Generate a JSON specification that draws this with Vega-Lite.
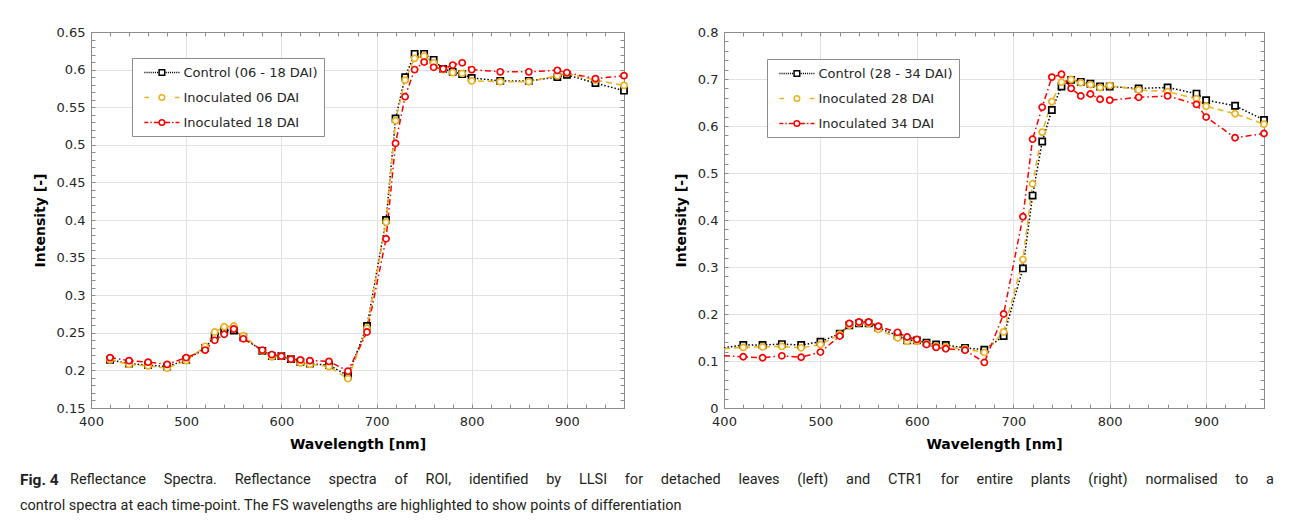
{
  "$schema": "https://vega.github.io/schema/vega-lite/v6.json",
  "background": "white",
  "padding": {"left": 20, "top": 26, "right": 0, "bottom": 0},
  "spacing": 16,
  "config": {
    "font": "DejaVu Sans",
    "view": {"stroke": null},
    "axis": {
      "labelFont": "DejaVu Sans", "labelFontSize": 13, "labelColor": "#262626",
      "titleFont": "DejaVu Sans", "titleFontSize": 14, "titleFontWeight": "bold", "titleColor": "#000000",
      "gridColor": "#e2e2e2", "gridWidth": 1, "domainColor": "#8c8c8c", "tickColor": "#8c8c8c",
      "labelPadding": 6, "labelFlush": false, "labelOverlap": false
    },
    "legend": {"labelFont": "DejaVu Sans"}
  },
  "datasets": {
    "left": [
      {"wl":420,"c":0.214,"a":0.214,"b":0.217},
      {"wl":440,"c":0.209,"a":0.208,"b":0.213},
      {"wl":460,"c":0.207,"a":0.206,"b":0.211},
      {"wl":480,"c":0.205,"a":0.203,"b":0.208},
      {"wl":500,"c":0.214,"a":0.213,"b":0.217},
      {"wl":520,"c":0.230,"a":0.232,"b":0.227},
      {"wl":530,"c":0.246,"a":0.251,"b":0.240},
      {"wl":540,"c":0.253,"a":0.258,"b":0.248},
      {"wl":550,"c":0.253,"a":0.259,"b":0.255},
      {"wl":560,"c":0.244,"a":0.246,"b":0.242},
      {"wl":580,"c":0.226,"a":0.226,"b":0.227},
      {"wl":590,"c":0.219,"a":0.218,"b":0.221},
      {"wl":600,"c":0.219,"a":0.219,"b":0.219},
      {"wl":610,"c":0.215,"a":0.215,"b":0.215},
      {"wl":620,"c":0.211,"a":0.210,"b":0.214},
      {"wl":630,"c":0.209,"a":0.208,"b":0.213},
      {"wl":650,"c":0.207,"a":0.205,"b":0.212},
      {"wl":670,"c":0.193,"a":0.189,"b":0.199},
      {"wl":690,"c":0.259,"a":0.256,"b":0.251},
      {"wl":710,"c":0.400,"a":0.397,"b":0.375},
      {"wl":720,"c":0.535,"a":0.532,"b":0.502},
      {"wl":730,"c":0.590,"a":0.586,"b":0.564},
      {"wl":740,"c":0.621,"a":0.615,"b":0.600},
      {"wl":750,"c":0.621,"a":0.618,"b":0.610},
      {"wl":760,"c":0.613,"a":0.609,"b":0.603},
      {"wl":770,"c":0.601,"a":0.600,"b":0.601},
      {"wl":780,"c":0.597,"a":0.596,"b":0.606},
      {"wl":790,"c":0.594,"a":0.595,"b":0.609},
      {"wl":800,"c":0.589,"a":0.585,"b":0.600},
      {"wl":830,"c":0.585,"a":0.584,"b":0.597},
      {"wl":860,"c":0.585,"a":0.584,"b":0.597},
      {"wl":890,"c":0.590,"a":0.592,"b":0.599},
      {"wl":900,"c":0.593,"a":0.595,"b":0.596},
      {"wl":930,"c":0.582,"a":0.586,"b":0.588},
      {"wl":960,"c":0.572,"a":0.579,"b":0.592}
    ],
    "right": [
      {"wl":400,"c":0.128,"a":0.126,"b":0.111},
      {"wl":420,"c":0.134,"a":0.129,"b":0.109},
      {"wl":440,"c":0.134,"a":0.130,"b":0.107},
      {"wl":460,"c":0.136,"a":0.131,"b":0.111},
      {"wl":480,"c":0.134,"a":0.128,"b":0.108},
      {"wl":500,"c":0.141,"a":0.135,"b":0.119},
      {"wl":520,"c":0.158,"a":0.157,"b":0.153},
      {"wl":530,"c":0.176,"a":0.176,"b":0.180},
      {"wl":540,"c":0.180,"a":0.181,"b":0.183},
      {"wl":550,"c":0.180,"a":0.180,"b":0.183},
      {"wl":560,"c":0.171,"a":0.167,"b":0.174},
      {"wl":580,"c":0.154,"a":0.149,"b":0.161},
      {"wl":590,"c":0.144,"a":0.142,"b":0.151},
      {"wl":600,"c":0.144,"a":0.142,"b":0.146},
      {"wl":610,"c":0.139,"a":0.137,"b":0.135},
      {"wl":620,"c":0.135,"a":0.132,"b":0.129},
      {"wl":630,"c":0.134,"a":0.130,"b":0.126},
      {"wl":650,"c":0.128,"a":0.126,"b":0.123},
      {"wl":670,"c":0.124,"a":0.118,"b":0.097},
      {"wl":690,"c":0.153,"a":0.162,"b":0.200},
      {"wl":710,"c":0.297,"a":0.316,"b":0.407},
      {"wl":720,"c":0.452,"a":0.477,"b":0.572},
      {"wl":730,"c":0.567,"a":0.587,"b":0.640},
      {"wl":740,"c":0.634,"a":0.652,"b":0.704},
      {"wl":750,"c":0.684,"a":0.693,"b":0.710},
      {"wl":760,"c":0.698,"a":0.699,"b":0.680},
      {"wl":770,"c":0.694,"a":0.692,"b":0.664},
      {"wl":780,"c":0.690,"a":0.688,"b":0.668},
      {"wl":790,"c":0.684,"a":0.682,"b":0.657},
      {"wl":800,"c":0.684,"a":0.686,"b":0.655},
      {"wl":830,"c":0.680,"a":0.677,"b":0.661},
      {"wl":860,"c":0.682,"a":0.673,"b":0.664},
      {"wl":890,"c":0.669,"a":0.658,"b":0.646},
      {"wl":900,"c":0.655,"a":0.642,"b":0.619},
      {"wl":930,"c":0.643,"a":0.626,"b":0.575},
      {"wl":960,"c":0.613,"a":0.604,"b":0.584}
    ],
    "caption": [
      {"part":"fig","line":1,"text":"Fig. 4"},
      {"part":"l1","line":1,"text":"Reflectance\u2003\u2009Spectra.\u2003\u2009Reflectance\u2003\u2009spectra\u2003\u2009of\u2003\u2009ROI,\u2003\u2009identified\u2003\u2009by\u2003\u2009LLSI\u2003\u2009for\u2003\u2009detached\u2003\u2009leaves\u2003\u2009(left)\u2003\u2009and\u2003\u2009CTR1\u2003\u2009for\u2003\u2009entire\u2003\u2009plants\u2003\u2009(right)\u2003\u2009normalised\u2003\u2009to\u2003\u2009a"},
      {"part":"l2","line":2,"text":"control spectra at each time-point. The FS wavelengths are highlighted to show points of differentiation"}
    ]
  },
  "vconcat": [
    {
      "spacing": 43,
      "hconcat": [
        {
          "width": 533, "height": 376,
          "data": {"name": "left"},
          "transform": [{"fold": ["c","a","b"], "as": ["series","v"]}],
          "resolve": {"axis": {"x": "independent", "y": "independent"}, "scale": {"color": "independent", "shape": "independent"}},
          "layer": [
            {
              "mark": {"type": "line", "strokeWidth": 1.5},
              "encoding": {
                "x": {"field": "wl", "type": "quantitative", "scale": {"domain": [400, 960], "nice": false},
                      "axis": {"orient": "bottom", "values": [400,500,600,700,800,900], "grid": true, "ticks": false, "domain": false, "labelPadding": 7, "title": "Wavelength [nm]", "titlePadding": 9}},
                "y": {"field": "v", "type": "quantitative", "scale": {"domain": [0.15, 0.65], "nice": false, "zero": false},
                      "axis": {"orient": "left", "values": [0.15,0.2,0.25,0.3,0.35,0.4,0.45,0.5,0.55,0.6,0.65], "format": ".2~f", "grid": true, "ticks": false, "domain": false, "title": "Intensity [-]", "titlePadding": 9}},
                "color": {"field": "series", "type": "nominal", "scale": {"domain": ["c","a","b"], "range": ["#000000","#EDB120","#FF0000"]}, "legend": null},
                "strokeDash": {"field": "series", "type": "nominal", "scale": {"domain": ["c","a","b"], "range": [[1.5,2],[6,4],[6,3,1.5,3]]}, "legend": null}
              }
            },
            {
              "mark": {"type": "point", "filled": false, "fill": "white", "strokeWidth": 1.7, "size": 38, "opacity": 1},
              "encoding": {
                "x": {"field": "wl", "type": "quantitative",
                      "axis": {"orient": "bottom", "values": [400,420,440,460,480,500,520,540,560,580,600,620,640,660,680,700,720,740,760,780,800,820,840,860,880,900,920,940,960], "labels": false, "grid": false, "tickSize": -4, "domain": true, "title": null}},
                "y": {"field": "v", "type": "quantitative",
                      "axis": {"orient": "left", "values": [0.15,0.16,0.17,0.18,0.19,0.2,0.21,0.22,0.23,0.24,0.25,0.26,0.27,0.28,0.29,0.3,0.31,0.32,0.33,0.34,0.35,0.36,0.37,0.38,0.39,0.4,0.41,0.42,0.43,0.44,0.45,0.46,0.47,0.48,0.49,0.5,0.51,0.52,0.53,0.54,0.55,0.56,0.57,0.58,0.59,0.6,0.61,0.62,0.63,0.64,0.65], "labels": false, "grid": false, "tickSize": -4, "domain": true, "title": null}},
                "color": {"field": "series", "type": "nominal", "scale": {"domain": ["c","a","b"], "range": ["#000000","#EDB120","#FF0000"]}, "legend": null},
                "shape": {"field": "series", "type": "nominal", "scale": {"domain": ["c","a","b"], "range": ["square","circle","circle"]}, "legend": null}
              }
            },
            {
              "transform": [{"filter": "false"}],
              "mark": {"type": "point", "filled": false, "size": 196, "strokeWidth": 1.5, "opacity": 1},
              "encoding": {
                "x": {"field": "wl", "type": "quantitative",
                      "axis": {"orient": "top", "values": [400,420,440,460,480,500,520,540,560,580,600,620,640,660,680,700,720,740,760,780,800,820,840,860,880,900,920,940,960], "labels": false, "grid": false, "tickSize": -4, "domain": true, "title": null}},
                "y": {"field": "v", "type": "quantitative",
                      "axis": {"orient": "right", "values": [0.15,0.16,0.17,0.18,0.19,0.2,0.21,0.22,0.23,0.24,0.25,0.26,0.27,0.28,0.29,0.3,0.31,0.32,0.33,0.34,0.35,0.36,0.37,0.38,0.39,0.4,0.41,0.42,0.43,0.44,0.45,0.46,0.47,0.48,0.49,0.5,0.51,0.52,0.53,0.54,0.55,0.56,0.57,0.58,0.59,0.6,0.61,0.62,0.63,0.64,0.65], "labels": false, "grid": false, "tickSize": -4, "domain": true, "title": null}},
                "color": {"field": "series", "type": "nominal", "scale": {"domain": ["c","a","b"], "range": ["#000000","#EDB120","#FF0000"]},
                          "legend": {"orient": "none", "legendX": 41, "legendY": 26, "title": null, "labelExpr": "datum.label == 'c' ? 'Control (06 - 18 DAI)  ' : datum.label == 'a' ? 'Inoculated 06 DAI' : 'Inoculated 18 DAI'", "labelFontSize": 13, "labelColor": "#262626", "symbolSize": 196, "symbolStrokeWidth": 1.5, "symbolFillColor": "white", "labelOffset": 29, "rowPadding": 10, "padding": 6.5, "fillColor": "white", "strokeColor": "#8c8c8c"}},
                "shape": {"field": "series", "type": "nominal", "scale": {"domain": ["c","a","b"], "range": [
                  "M-0.3,0h0.15M0,0h0.15M0.3,0h0.15M0.6,0h0.15M0.9,0h0.15M1.2,0h0.15M1.5,0h0.15M2.75,0h0.15M3.05,0h0.15M3.35,0h0.15M3.65,0h0.15M3.95,0h0.15M4.25,0h0.15M4.55,0h0.15M1.8,-0.4H2.6V0.4H1.8Z",
                  "M-0.3,0H0.35M2.6,0A0.4,0.4 0 1,1 1.8,0A0.4,0.4 0 1,1 2.6,0ZM4.05,0H4.7",
                  "M-0.3,0H0.25M0.55,0H0.75M1.05,0H1.75M2.65,0H3.35M3.65,0H3.85M4.15,0H4.7M2.6,0A0.4,0.4 0 1,1 1.8,0A0.4,0.4 0 1,1 2.6,0Z"
                ]},
                          "legend": {"orient": "none", "legendX": 41, "legendY": 26, "title": null, "labelExpr": "datum.label == 'c' ? 'Control (06 - 18 DAI)  ' : datum.label == 'a' ? 'Inoculated 06 DAI' : 'Inoculated 18 DAI'", "labelFontSize": 13, "labelColor": "#262626", "symbolSize": 196, "symbolStrokeWidth": 1.5, "symbolFillColor": "white", "labelOffset": 29, "rowPadding": 10, "padding": 6.5, "fillColor": "white", "strokeColor": "#8c8c8c"}}
              }
            }
          ]
        },
        {
          "width": 540, "height": 376,
          "data": {"name": "right"},
          "transform": [{"fold": ["c","a","b"], "as": ["series","v"]}],
          "resolve": {"axis": {"x": "independent", "y": "independent"}, "scale": {"color": "independent", "shape": "independent"}},
          "layer": [
            {
              "mark": {"type": "line", "strokeWidth": 1.5},
              "encoding": {
                "x": {"field": "wl", "type": "quantitative", "scale": {"domain": [400, 960], "nice": false},
                      "axis": {"orient": "bottom", "values": [400,500,600,700,800,900], "grid": true, "ticks": false, "domain": false, "labelPadding": 7, "title": "Wavelength [nm]", "titlePadding": 9}},
                "y": {"field": "v", "type": "quantitative", "scale": {"domain": [0, 0.8], "nice": false},
                      "axis": {"orient": "left", "values": [0,0.1,0.2,0.3,0.4,0.5,0.6,0.7,0.8], "format": ".1~f", "grid": true, "ticks": false, "domain": false, "title": "Intensity [-]", "titlePadding": 9}},
                "color": {"field": "series", "type": "nominal", "scale": {"domain": ["c","a","b"], "range": ["#000000","#EDB120","#FF0000"]}, "legend": null},
                "strokeDash": {"field": "series", "type": "nominal", "scale": {"domain": ["c","a","b"], "range": [[1.5,2],[6,4],[6,3,1.5,3]]}, "legend": null}
              }
            },
            {
              "transform": [{"filter": "datum.wl > 400"}],
              "mark": {"type": "point", "filled": false, "fill": "white", "strokeWidth": 1.7, "size": 38, "opacity": 1},
              "encoding": {
                "x": {"field": "wl", "type": "quantitative",
                      "axis": {"orient": "bottom", "values": [400,420,440,460,480,500,520,540,560,580,600,620,640,660,680,700,720,740,760,780,800,820,840,860,880,900,920,940,960], "labels": false, "grid": false, "tickSize": -4, "domain": true, "title": null}},
                "y": {"field": "v", "type": "quantitative",
                      "axis": {"orient": "left", "values": [0,0.02,0.04,0.06,0.08,0.1,0.12,0.14,0.16,0.18,0.2,0.22,0.24,0.26,0.28,0.3,0.32,0.34,0.36,0.38,0.4,0.42,0.44,0.46,0.48,0.5,0.52,0.54,0.56,0.58,0.6,0.62,0.64,0.66,0.68,0.7,0.72,0.74,0.76,0.78,0.8], "labels": false, "grid": false, "tickSize": -4, "domain": true, "title": null}},
                "color": {"field": "series", "type": "nominal", "scale": {"domain": ["c","a","b"], "range": ["#000000","#EDB120","#FF0000"]}, "legend": null},
                "shape": {"field": "series", "type": "nominal", "scale": {"domain": ["c","a","b"], "range": ["square","circle","circle"]}, "legend": null}
              }
            },
            {
              "transform": [{"filter": "false"}],
              "mark": {"type": "point", "filled": false, "size": 196, "strokeWidth": 1.5, "opacity": 1},
              "encoding": {
                "x": {"field": "wl", "type": "quantitative",
                      "axis": {"orient": "top", "values": [400,420,440,460,480,500,520,540,560,580,600,620,640,660,680,700,720,740,760,780,800,820,840,860,880,900,920,940,960], "labels": false, "grid": false, "tickSize": -4, "domain": true, "title": null}},
                "y": {"field": "v", "type": "quantitative",
                      "axis": {"orient": "right", "values": [0,0.02,0.04,0.06,0.08,0.1,0.12,0.14,0.16,0.18,0.2,0.22,0.24,0.26,0.28,0.3,0.32,0.34,0.36,0.38,0.4,0.42,0.44,0.46,0.48,0.5,0.52,0.54,0.56,0.58,0.6,0.62,0.64,0.66,0.68,0.7,0.72,0.74,0.76,0.78,0.8], "labels": false, "grid": false, "tickSize": -4, "domain": true, "title": null}},
                "color": {"field": "series", "type": "nominal", "scale": {"domain": ["c","a","b"], "range": ["#000000","#EDB120","#FF0000"]},
                          "legend": {"orient": "none", "legendX": 43, "legendY": 27, "title": null, "labelExpr": "datum.label == 'c' ? 'Control (28 - 34 DAI)  ' : datum.label == 'a' ? 'Inoculated 28 DAI' : 'Inoculated 34 DAI'", "labelFontSize": 13, "labelColor": "#262626", "symbolSize": 196, "symbolStrokeWidth": 1.5, "symbolFillColor": "white", "labelOffset": 29, "rowPadding": 10, "padding": 6.5, "fillColor": "white", "strokeColor": "#8c8c8c"}},
                "shape": {"field": "series", "type": "nominal", "scale": {"domain": ["c","a","b"], "range": [
                  "M-0.3,0h0.15M0,0h0.15M0.3,0h0.15M0.6,0h0.15M0.9,0h0.15M1.2,0h0.15M1.5,0h0.15M2.75,0h0.15M3.05,0h0.15M3.35,0h0.15M3.65,0h0.15M3.95,0h0.15M4.25,0h0.15M4.55,0h0.15M1.8,-0.4H2.6V0.4H1.8Z",
                  "M-0.3,0H0.35M2.6,0A0.4,0.4 0 1,1 1.8,0A0.4,0.4 0 1,1 2.6,0ZM4.05,0H4.7",
                  "M-0.3,0H0.25M0.55,0H0.75M1.05,0H1.75M2.65,0H3.35M3.65,0H3.85M4.15,0H4.7M2.6,0A0.4,0.4 0 1,1 1.8,0A0.4,0.4 0 1,1 2.6,0Z"
                ]},
                          "legend": {"orient": "none", "legendX": 43, "legendY": 27, "title": null, "labelExpr": "datum.label == 'c' ? 'Control (28 - 34 DAI)  ' : datum.label == 'a' ? 'Inoculated 28 DAI' : 'Inoculated 34 DAI'", "labelFontSize": 13, "labelColor": "#262626", "symbolSize": 196, "symbolStrokeWidth": 1.5, "symbolFillColor": "white", "labelOffset": 29, "rowPadding": 10, "padding": 6.5, "fillColor": "white", "strokeColor": "#8c8c8c"}}
              }
            }
          ]
        }
      ]
    },
    {
      "width": 1190, "height": 52,
      "data": {"name": "caption"},
      "layer": [
        {
          "transform": [{"filter": "datum.part == 'fig'"}],
          "mark": {"type": "text", "align": "left", "baseline": "middle", "font": "Roboto", "fontSize": 15.5, "fontWeight": "bold", "color": "#231f20", "dx": -71},
          "encoding": {
            "x": {"datum": 0, "type": "quantitative", "scale": {"domain": [0, 1]}, "axis": null},
            "y": {"field": "line", "type": "ordinal", "axis": null},
            "text": {"field": "text"}
          }
        },
        {
          "transform": [{"filter": "datum.part == 'l1'"}],
          "mark": {"type": "text", "align": "left", "baseline": "middle", "font": "Roboto", "fontSize": 14.5, "color": "#231f20", "dx": -21},
          "encoding": {
            "x": {"datum": 0, "type": "quantitative", "scale": {"domain": [0, 1]}, "axis": null},
            "y": {"field": "line", "type": "ordinal", "axis": null},
            "text": {"field": "text"}
          }
        },
        {
          "transform": [{"filter": "datum.part == 'l2'"}],
          "mark": {"type": "text", "align": "left", "baseline": "middle", "font": "Roboto", "fontSize": 14.5, "color": "#231f20", "dx": -71},
          "encoding": {
            "x": {"datum": 0, "type": "quantitative", "scale": {"domain": [0, 1]}, "axis": null},
            "y": {"field": "line", "type": "ordinal", "axis": null},
            "text": {"field": "text"}
          }
        }
      ]
    }
  ]
}
